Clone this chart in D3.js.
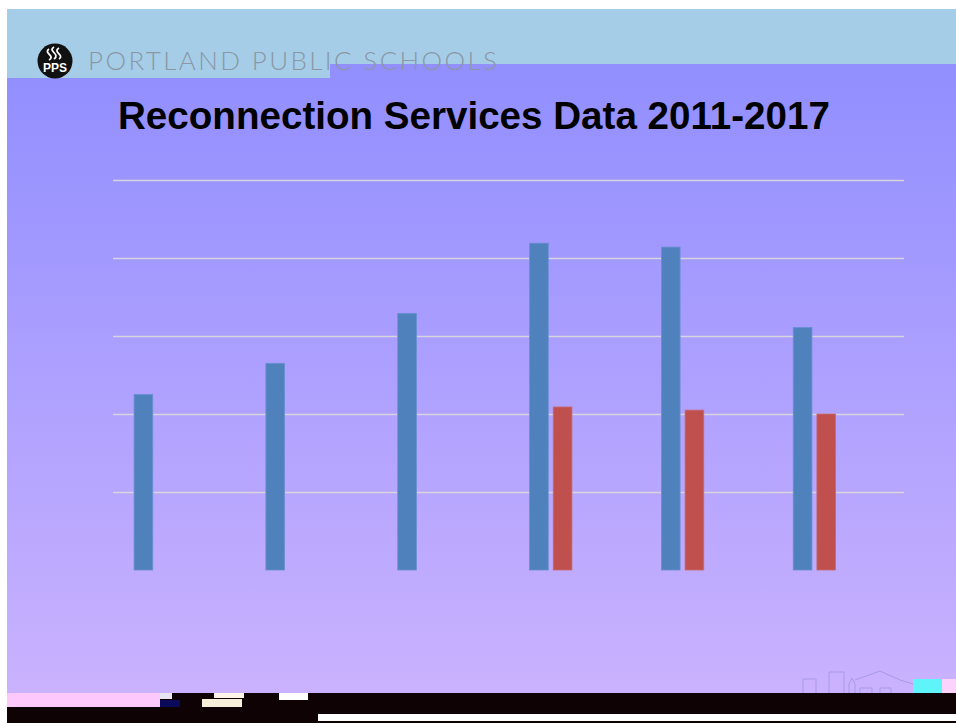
<!DOCTYPE html>
<html>
<head>
<meta charset="utf-8">
<title>Reconnection Services Data 2011-2017</title>
<script src="https://d3js.org/d3.v7.min.js"></script>
<style>
  body { margin: 0; background: #fff; }
  svg { display: block; }
</style>
</head>
<body>
<div id="slide"></div>
<script>
// chart data (no axis labels shown, one gridline = 100)
var years = ["2011-12", "2012-13", "2013-14", "2014-15", "2015-16", "2016-17"];
var seriesNames = ["Served", "Reconnected", "s3", "s4"];   // Excel left room for 4 series
var servedValues = [225, 265, 329, 419, 414, 311];
var reconnectedValues = [null, null, null, 209, 205, 200];
var gridTicks = [100, 200, 300, 400, 500];

var W = 956, H = 723;
var margin = {top: 180, right: 52, bottom: 153, left: 113};

var svg = d3.select("#slide").append("svg")
    .attr("width", W)
    .attr("height", H);

var defs = svg.append("defs");
var grad = defs.append("linearGradient")
    .attr("id", "bg")
    .attr("x1", 0).attr("y1", 0).attr("x2", 0).attr("y2", 1);
grad.append("stop").attr("offset", "0%").attr("stop-color", "#928fff");
grad.append("stop").attr("offset", "100%").attr("stop-color", "#cab2fe");

// slide background
svg.append("rect").attr("x", 7).attr("y", 9).attr("width", W - 7).attr("height", 70)
    .attr("fill", "#a5cde7");
svg.append("rect").attr("x", 7).attr("y", 78).attr("width", W - 7).attr("height", 615)
    .attr("fill", "url(#bg)");
svg.append("rect").attr("x", 330).attr("y", 64).attr("width", W - 330).attr("height", 15)
    .attr("fill", "#928fff");

// header: logo + school name
var logo = svg.append("g").attr("transform", "translate(55,61)");
logo.append("circle").attr("r", 17.5).attr("fill", "#111");
logo.append("path")
    .attr("d", "M-1,-14 C-8,-10 6,-7 -1,-2 M4,-13 C-3,-9 10,-6 4,-2 M-6,-12 C-12,-8 1,-5 -6,-1")
    .attr("fill", "none").attr("stroke", "#fff").attr("stroke-width", 1.8);
logo.append("text")
    .attr("x", 0).attr("y", 11)
    .attr("text-anchor", "middle")
    .style("font-family", "Liberation Sans, Arial, sans-serif")
    .style("font-weight", "bold")
    .style("font-size", "12px")
    .attr("fill", "#fff")
    .text("PPS");

svg.append("text")
    .attr("x", 88).attr("y", 70)
    .attr("textLength", 409)
    .attr("lengthAdjust", "spacing")
    .style("font-family", "Lato, 'Open Sans', sans-serif")
    .style("font-weight", 300)
    .style("font-size", "26px")
    .attr("fill", "#8a98a6")
    .text("PORTLAND PUBLIC SCHOOLS");

// title
svg.append("text")
    .attr("x", 118).attr("y", 129)
    .style("font-family", "Liberation Sans, Arial, sans-serif")
    .style("font-weight", "bold")
    .style("font-size", "38.6px")
    .attr("fill", "#000")
    .text("Reconnection Services Data 2011-2017");

// scales
var x0 = d3.scaleBand()
    .domain(years)
    .range([margin.left, W - margin.right])
    .padding(0);

var x1 = d3.scaleBand()
    .domain(seriesNames)
    .range([0, x0.bandwidth()])
    .paddingInner(0.21)
    .paddingOuter(0.89);

var y = d3.scaleLinear()
    .domain([0, 500])
    .range([H - margin.bottom, margin.top]);

// gridlines
svg.append("g")
    .attr("transform", "translate(" + margin.left + ",0)")
    .call(d3.axisLeft(y).tickValues(gridTicks).tickSize(-(W - margin.left - margin.right)).tickFormat(""))
    .call(function(g) { g.select(".domain").remove(); })
    .selectAll("line")
      .attr("stroke", "#d6d4dc")
      .attr("stroke-width", 1.5);

// bars
var rows = years.map(function(yr, i) {
  return {year: yr, served: servedValues[i], reconnected: reconnectedValues[i]};
});

var groups = svg.append("g").selectAll("g")
  .data(rows)
  .enter().append("g")
    .attr("transform", function(d) { return "translate(" + x0(d.year) + ",0)"; });

groups.append("rect")
    .attr("x", x1("Served"))
    .attr("y", function(d) { return y(d.served); })
    .attr("width", x1.bandwidth())
    .attr("height", function(d) { return y(0) - y(d.served); })
    .attr("fill", "#4f81bd")
    .attr("stroke", "#6b8fd0")
    .attr("stroke-width", 0.8);

groups.filter(function(d) { return d.reconnected != null; })
  .append("rect")
    .attr("x", x1("Reconnected"))
    .attr("y", function(d) { return y(d.reconnected); })
    .attr("width", x1.bandwidth())
    .attr("height", function(d) { return y(0) - y(d.reconnected); })
    .attr("fill", "#c0504d")
    .attr("stroke", "#c66a73")
    .attr("stroke-width", 0.8);

// skyline outline bottom right
svg.append("path")
    .attr("d", "M803,693 V679 H816 V693 M829,693 V672 H844 V693 M849,693 V684 L852,678 L855,684 V693 M855,680 L880,671 L900,680 L913,684 M860,693 V688 H872 V693 M880,693 V688 H891 V693")
    .attr("fill", "none")
    .attr("stroke", "#a99be6")
    .attr("stroke-width", 1);
svg.append("rect").attr("x", 913).attr("y", 679).attr("width", 29).attr("height", 14).attr("fill", "#5ff4fa");
svg.append("rect").attr("x", 942).attr("y", 679).attr("width", 14).attr("height", 14).attr("fill", "#fbd3fb");

// broken footer strip
svg.append("rect").attr("x", 7).attr("y", 693).attr("width", W - 7).attr("height", 30).attr("fill", "#0f0204");
svg.append("rect").attr("x", 7).attr("y", 693).attr("width", 153).attr("height", 14).attr("fill", "#fdc8fc");
svg.append("rect").attr("x", 318).attr("y", 714).attr("width", W - 318).attr("height", 7).attr("fill", "#fff");
svg.append("rect").attr("x", 160).attr("y", 700).attr("width", 20).attr("height", 7).attr("fill", "#0b0a5a");
svg.append("rect").attr("x", 160).attr("y", 693).attr("width", 12).attr("height", 6).attr("fill", "#e8e4f0");
svg.append("rect").attr("x", 202).attr("y", 699).attr("width", 40).attr("height", 8).attr("fill", "#f7efd9");
svg.append("rect").attr("x", 214).attr("y", 693).attr("width", 30).attr("height", 5).attr("fill", "#fdf5e8");
svg.append("rect").attr("x", 279).attr("y", 693).attr("width", 29).attr("height", 7).attr("fill", "#ffffff");
</script>
</body>
</html>
